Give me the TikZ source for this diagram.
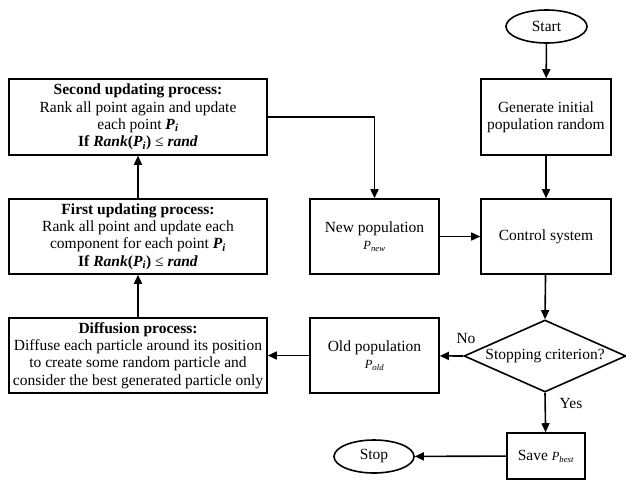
\documentclass[tikz,border=0pt]{standalone}
\usepackage{fontspec}
\setmainfont{Liberation Serif}
\usetikzlibrary{shapes.geometric,arrows.meta}
\newcommand\mypi{\textbf{\textit{P}}\textsubscript{\textbf{\textit{i}}}}
\newcommand\mysub[1]{{\fontsize{12.5}{13}\selectfont\textit{P}\textsubscript{\textit{#1}}}}
\begin{document}
\begin{tikzpicture}[x=1pt,y=-1pt,
  mainfont/.style={font=\fontsize{15.5}{17.3}\selectfont},
  box/.style={draw,line width=1.6pt,rectangle,align=center,inner sep=1pt,mainfont},
  oval/.style={draw,line width=1.6pt,ellipse,inner sep=0pt,mainfont},
  decision/.style={draw,line width=1.6pt,diamond,aspect=2.25,inner sep=0pt,mainfont},
  lbl/.style={inner sep=0pt,mainfont},
  arr/.style={-{Triangle[length=9pt,width=8pt]},line width=1.6pt},
  line/.style={line width=1.6pt}]
\useasboundingbox (0,0) rectangle (626,480);

\node[oval,minimum width=81pt,minimum height=33pt] (start) at (546.5,26.5) {Start};
\node[box,minimum width=130pt,minimum height=76pt] (gen) at (546,117) {Generate initial\\population random};
\node[box,minimum width=130pt,minimum height=75pt] (ctrl) at (546,236.5) {Control system};
\node[decision,minimum width=162pt,minimum height=72pt] (stop?) at (545,356) {Stopping criterion?};
\node[box,minimum width=78pt,minimum height=46pt] (save) at (546,456) {Save \mysub{best}};
\node[oval,minimum width=80pt,minimum height=33pt] (stop) at (374,456.5) {Stop};
\node[box,minimum width=129pt,minimum height=75pt] (old) at (374.5,355.5) {Old population\\\mysub{old}};
\node[box,minimum width=129pt,minimum height=75pt] (new) at (374.5,236.5) {New population\\\mysub{new}};
\node[box,minimum width=258pt,minimum height=75pt] (diff) at (138,355.5)
  {\textbf{Diffusion process:}\\Diffuse each particle around its position\\to create some random particle and\\consider the best generated particle only};
\node[box,minimum width=258pt,minimum height=75pt] (first) at (138,236.5)
  {\textbf{First updating process:}\\Rank all point and update each\\component for each point \mypi\\\textbf{If} \textbf{\textit{Rank}}\textbf{(}\mypi\textbf{)} ≤ \textbf{\textit{rand}}};
\node[box,minimum width=258pt,minimum height=76pt] (second) at (138,117)
  {\textbf{Second updating process:}\\Rank all point again and update\\each point \mypi\\\textbf{If} \textbf{\textit{Rank}}\textbf{(}\mypi\textbf{)} ≤ \textbf{\textit{rand}}};

\node[lbl] (no) at (466,338) {No};
\node[lbl] (yes) at (571,403) {Yes};

\draw[arr] (start) -- (gen);
\draw[arr] (gen) -- (ctrl);
\draw[arr] (ctrl) -- (stop?.north);
\draw[arr] (stop?.west) -- (old);
\draw[arr] (stop?.south) -- (save);
\draw[arr] (save) -- (stop);
\draw[arr] (old) -- (diff);
\draw[arr] (diff) -- (first);
\draw[arr] (first) -- (second);
\draw[arr] (second.east) -| (new.north);
\draw[arr] (new) -- (ctrl);
\end{tikzpicture}
\end{document}
